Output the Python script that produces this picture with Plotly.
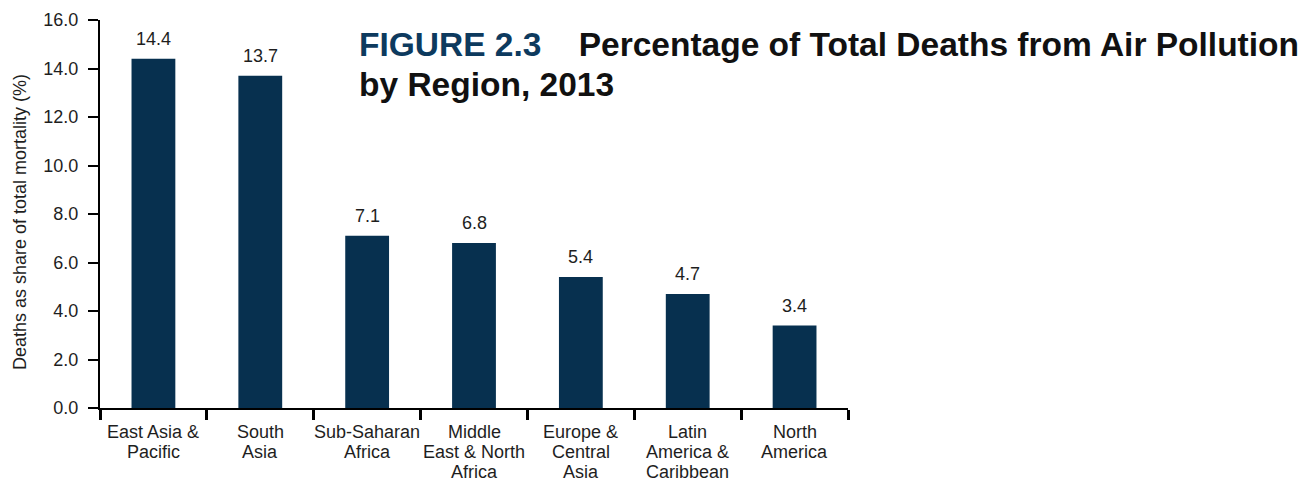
import plotly.graph_objects as go

# Share of total deaths attributable to air pollution, by region (2013)
regions = [
    "East Asia &<br>Pacific",
    "South<br>Asia",
    "Sub-Saharan<br>Africa",
    "Middle<br>East & North<br>Africa",
    "Europe &<br>Central<br>Asia",
    "Latin<br>America &<br>Caribbean",
    "North<br>America",
]
death_share = [14.4, 13.7, 7.1, 6.8, 5.4, 4.7, 3.4]
y_ticks = [0, 2, 4, 6, 8, 10, 12, 14, 16]

BAR = "#07304f"
TEXT = "#1e1e1e"
FONT = "Liberation Sans, Arial, sans-serif"

fig = go.Figure(
    go.Bar(
        x=regions,
        y=death_share,
        marker=dict(color=BAR, line=dict(width=0)),
        width=0.41,
        hoverinfo="skip",
    )
)

# value labels above each bar
for r, v in zip(regions, death_share):
    fig.add_annotation(
        x=r, y=v, text=f"{v:.1f}", showarrow=False,
        yanchor="bottom", yshift=8,
        font=dict(family=FONT, size=18, color=TEXT),
    )

# category labels, one annotation per line so the leading stays compact
for r in regions:
    for i, line in enumerate(r.split("<br>")):
        fig.add_annotation(
            x=r, y=0, text=line, showarrow=False,
            yanchor="middle", yshift=-(24 + 20 * i),
            font=dict(family=FONT, size=18, color=TEXT),
        )

# vertical axis title
fig.add_annotation(
    xref="paper", yref="paper", x=-0.107, y=0.479,
    xanchor="center", yanchor="middle", textangle=-90, showarrow=False,
    text="Deaths as share of total mortality (%)",
    font=dict(family=FONT, size=18, color=TEXT),
)

# two-line heading, placed line by line for tighter leading
title_font = dict(family=FONT, size=33.5, color="#111111")
fig.add_annotation(
    xref="paper", yref="paper", x=0.343, y=0.9356,
    xanchor="left", yanchor="middle", showarrow=False,
    text=("<b><span style='color:#0d3a5e'>FIGURE 2.3</span>"
          "&nbsp;&nbsp;&nbsp;&nbsp;Percentage of Total Deaths from Air Pollution</b>"),
    font=title_font,
)
fig.add_annotation(
    xref="paper", yref="paper", x=0.343, y=0.835,
    xanchor="left", yanchor="middle", showarrow=False,
    text="<b>by Region, 2013</b>",
    font=title_font,
)

fig.update_layout(
    width=1303, height=483,
    margin=dict(l=100, r=455, t=20, b=75),
    paper_bgcolor="white", plot_bgcolor="white",
    showlegend=False,
    font=dict(family=FONT, size=18, color=TEXT),
    xaxis=dict(
        range=[-0.5, 6.5], automargin=False, showticklabels=False,
        showline=True, linecolor="black", linewidth=2,
        ticks="outside", tickson="boundaries", ticklen=10, tickwidth=3, tickcolor="black",
        showgrid=False,
    ),
    yaxis=dict(
        range=[0, 16], tickvals=y_ticks, tickformat=".1f", automargin=False,
        showline=True, linecolor="black", linewidth=2,
        ticks="outside", ticklen=10, tickwidth=2, tickcolor="black",
        showgrid=False, zeroline=False,
        tickfont=dict(size=18, color=TEXT), ticklabelstandoff=6,
    ),
)

fig.write_html("out.html")
